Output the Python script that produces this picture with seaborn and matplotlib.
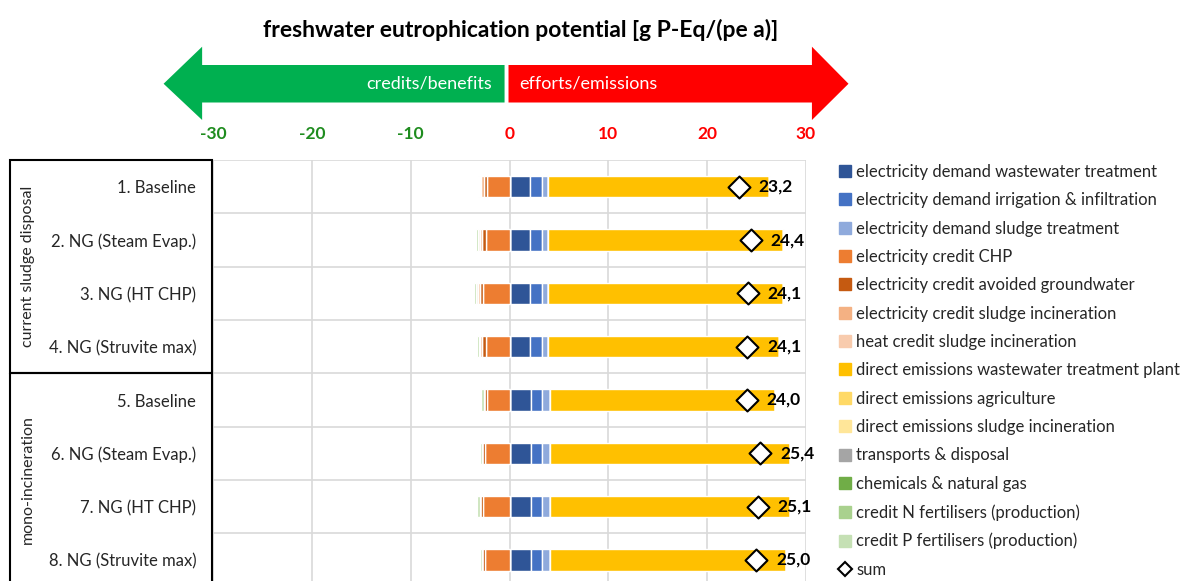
import numpy as np
import pandas as pd
import matplotlib
matplotlib.use("Agg")
import matplotlib.pyplot as plt
import matplotlib.transforms as mtransforms
from matplotlib.patches import Polygon, Rectangle
from matplotlib.lines import Line2D
import seaborn as sns

# scenarios (rows) and groups
scenarios = ["1. Baseline", "2. NG (Steam Evap.)", "3. NG (HT CHP)", "4. NG (Struvite max)",
             "5. Baseline", "6. NG (Steam Evap.)", "7. NG (HT CHP)", "8. NG (Struvite max)"]
groups = ["current sludge disposal", "mono-incineration"]

# contributions in g P-Eq/(pe a)
elec_wwt = [2.1, 2.1, 2.1, 2.1, 2.2, 2.2, 2.2, 2.2]
elec_irr = [1.2, 1.2, 1.2, 1.2, 1.1, 1.1, 1.1, 1.1]
elec_sludge = [0.6, 0.6, 0.6, 0.6, 0.75, 0.75, 0.75, 0.75]
credit_chp = [-2.26, -2.4, -2.67, -2.4, -2.26, -2.47, -2.67, -2.47]
credit_gw = [-0.34, -0.4, -0.34, -0.4, -0.34, -0.34, -0.34, -0.34]
credit_sludge_el = [-0.27, -0.22, -0.22, -0.17, 0, 0, 0, 0]
credit_heat = [-0.13, -0.12, -0.12, -0.1, 0, 0, 0, 0]
direct_wwtp = [22.4, 23.8, 23.8, 23.4, 22.8, 24.3, 24.3, 23.9]
direct_agri = [0, 0, 0, 0, 0, 0, 0, 0]
direct_incin = [0, 0, 0, 0, 0, 0, 0, 0]
transports = [0, 0, 0, 0, 0, 0, 0, 0]
chemicals = [0.05, 0.05, 0.05, 0.05, 0.05, 0.05, 0.05, 0.05]
credit_n = [-0.1, -0.2, -0.27, -0.2, 0, 0, 0, 0]
credit_p = [-0.05, 0, 0, 0, -0.27, -0.2, -0.27, -0.2]

labels = ["electricity demand wastewater treatment", "electricity demand irrigation & infiltration",
          "electricity demand sludge treatment", "electricity credit CHP",
          "electricity credit avoided groundwater", "electricity credit sludge incineration",
          "heat credit sludge incineration", "direct emissions wastewater treatment plant",
          "direct emissions agriculture", "direct emissions sludge incineration",
          "transports & disposal", "chemicals & natural gas",
          "credit N fertilisers (production)", "credit P fertilisers (production)"]
colors = ["#2F5597", "#4472C4", "#8FAADC", "#ED7D31", "#C55A11", "#F4B183", "#F8CBAD",
          "#FFC000", "#FFD966", "#FFE699", "#A5A5A5", "#70AD47", "#A9D18E", "#C5E0B4"]

df = pd.DataFrame(dict(zip(labels, [elec_wwt, elec_irr, elec_sludge, credit_chp, credit_gw,
                                    credit_sludge_el, credit_heat, direct_wwtp, direct_agri,
                                    direct_incin, transports, chemicals, credit_n, credit_p])),
                  index=scenarios)
df["sum"] = df[labels].sum(axis=1)

sns.set_style("white")
plt.rcParams["font.family"] = ["Lato", "DejaVu Sans"]

fig = plt.figure(figsize=(11.98, 5.81), dpi=100)
ax = fig.add_axes([213 / 1198, -5.6 / 581, 593 / 1198, 426.5 / 581])

y = np.arange(len(scenarios))
pos_left = np.zeros(len(scenarios))
neg_left = np.zeros(len(scenarios))
for lab, col in zip(labels, colors):
    vals = df[lab].values
    pos = np.where(vals > 0, vals, 0)
    neg = np.where(vals < 0, vals, 0)
    ax.barh(y, pos, left=pos_left, height=0.4, color=col, zorder=3)
    ax.barh(y, neg, left=neg_left, height=0.4, color=col, zorder=3)
    pos_left += pos
    neg_left += neg

sums = df.reset_index().rename(columns={"index": "scenario"})
sums["y"] = y
sns.scatterplot(data=sums, x="sum", y="y", marker="D", s=125, color="white",
                edgecolor="black", linewidth=1.5, ax=ax, zorder=5, legend=False)
for yi, s in zip(y, df["sum"]):
    ax.annotate(f"{s:.1f}".replace(".", ","), (s, yi), xytext=(14, 0), textcoords="offset points",
                va="center", ha="left", fontsize=12.5, fontweight="bold", color="black", zorder=6)

ax.set_xlim(-30, 30)
ax.set_ylim(len(scenarios) - 0.5, -0.5)
ax.set_xticks(np.arange(-30, 31, 10))
ax.xaxis.tick_top()
ax.set_xticklabels([str(t) for t in range(-30, 31, 10)], fontsize=12.5, fontweight="bold")
for t, lab in zip(range(-30, 31, 10), ax.get_xticklabels()):
    lab.set_color("#1E8C1E" if t < 0 else "#FF0000")
ax.tick_params(axis="x", length=0, pad=13)
ax.set_yticks(y)
ax.set_yticklabels(scenarios, fontsize=12, color="#262626")
ax.tick_params(axis="y", length=0, pad=12)
ax.set_yticks(np.arange(-0.5, len(scenarios), 1), minor=True)
ax.tick_params(axis="y", which="minor", length=0)
ax.grid(axis="x", color="#D9D9D9", lw=1.2, zorder=0)
ax.grid(axis="y", which="minor", color="#D9D9D9", lw=1.2, zorder=0)
ax.grid(axis="y", which="major", visible=False)
for sp in ax.spines.values():
    sp.set_visible(False)
ax.set_xlabel("")
ax.set_ylabel("")

# arrows above the axis
tr = mtransforms.blended_transform_factory(ax.transData, fig.transFigure)
sh_top, sh_bot = 1 - 65 / 581, 1 - 102.5 / 581
hd_top, hd_bot = 1 - 46.7 / 581, 1 - 120 / 581
mid = (sh_top + sh_bot) / 2
green = Polygon([(-0.5, sh_top), (-31.1, sh_top), (-31.1, hd_top), (-35.0, mid),
                 (-31.1, hd_bot), (-31.1, sh_bot), (-0.5, sh_bot)],
                closed=True, color="#00B050", transform=tr, clip_on=False, lw=0)
red = Polygon([(-0.1, sh_top), (30.6, sh_top), (30.6, hd_top), (34.3, mid),
               (30.6, hd_bot), (30.6, sh_bot), (-0.1, sh_bot)],
              closed=True, color="#FF0000", transform=tr, clip_on=False, lw=0)
ax.add_patch(green)
ax.add_patch(red)
ax.text(-1.8, mid, "credits/benefits", transform=tr, ha="right", va="center",
        color="white", fontsize=13)
ax.text(1.0, mid, "efforts/emissions", transform=tr, ha="left", va="center",
        color="white", fontsize=13)

fig.text(521 / 1198, 1 - 30 / 581, "freshwater eutrophication potential [g P-Eq/(pe a)]",
         ha="center", va="center", fontsize=16.5, fontweight="bold", color="black")

# group boxes on the left
tg = mtransforms.blended_transform_factory(fig.transFigure, ax.transData)
for gi, g in enumerate(groups):
    y0 = gi * 4 - 0.5
    rect = Rectangle((10 / 1198, y0), 202 / 1198, 4, fill=False, edgecolor="black",
                     lw=1.5, transform=tg, clip_on=False)
    ax.add_patch(rect)
    ax.text(28 / 1198, y0 + 2, g, transform=tg, rotation=90, ha="center", va="center",
            fontsize=11.5, color="#262626")

# legend
handles = [Line2D([], [], marker="s", color=c, linestyle="", markersize=8) for c in colors]
handles.append(Line2D([], [], marker="D", markerfacecolor="white", markeredgecolor="black",
                      markeredgewidth=1.5, linestyle="", markersize=7))
fig.legend(handles, labels + ["sum"], loc="upper left", bbox_to_anchor=(838 / 1198, 1 - 164 / 581),
           frameon=False, fontsize=12, labelspacing=0.74, handlelength=0.8,
           handletextpad=0.3, borderaxespad=0, borderpad=0, labelcolor="#262626")

fig.savefig("out.png", dpi=100)
